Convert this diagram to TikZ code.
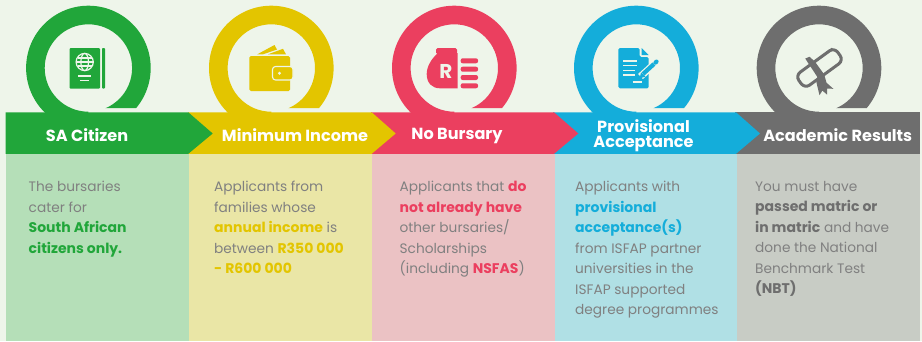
\documentclass[tikz,border=0pt]{standalone}
\usepackage{fontspec}
\setmainfont{Poppins}
\definecolor{bgc}{HTML}{EEF5EA}
\definecolor{cgreen}{HTML}{21A63A}
\definecolor{cyellow}{HTML}{E3C500}
\definecolor{cred}{HTML}{EB3F5F}
\definecolor{cblue}{HTML}{14ADDA}
\definecolor{cgray}{HTML}{6E6E6E}
\definecolor{pgreen}{HTML}{B5DFB8}
\definecolor{pyellow}{HTML}{EAE6A6}
\definecolor{pred}{HTML}{EBC2C4}
\definecolor{pblue}{HTML}{B0E0E5}
\definecolor{pgray}{HTML}{C8CCC5}
\definecolor{txtc}{HTML}{808080}
\tikzset{
  bartitle/.style={text=white,font=\bfseries\fontsize{16.1}{15}\selectfont,align=center,inner sep=0pt,anchor=center},
  bodytext/.style={text=txtc,font=\fontsize{13.7}{20.5}\selectfont,align=left,inner sep=0pt,anchor=north west},
}
\newcommand{\emtext}[2]{\textcolor{#1}{\fontsize{14}{20.5}\selectfont\textbf{#2}}}
\newcommand{\ringat}[2]{%
  \begin{scope}
    \clip (#1-70,0) -- (#1+70,0) -- (#1+70,108) -- (#1,108) -- (#1,113) -- (#1-70,113) -- cycle;
    \fill[#2,even odd rule] (#1,68) circle [radius=62.3pt] (#1,68) circle [radius=43.7pt];
  \end{scope}}
\begin{document}
\begin{tikzpicture}[x=1pt,y=-1pt]
\useasboundingbox (0,0) rectangle (922,341);
\fill[bgc] (0,0) rectangle (922,341);
% panels
\fill[pgreen] (6,154) rectangle (189,341);
\fill[pyellow] (189,154) rectangle (372,341);
\fill[pred] (372,154) rectangle (554.5,341);
\fill[pblue] (554.5,154) rectangle (737,341);
\fill[pgray] (737,154) rectangle (920,341);
% rings
\ringat{88.4}{cgreen}
\ringat{271.3}{cyellow}
\ringat{454.3}{cred}
\ringat{636.3}{cblue}
\ringat{819}{cgray}
% arrow bars
\fill[cgray] (735,112.3) -- (919.5,112.3) -- (919.5,153.8) -- (735,153.8) -- cycle;
\fill[cblue] (553,112.3) -- (736,112.3) -- (760,133.5) -- (736,153.8) -- (553,153.8) -- cycle;
\fill[cred] (371,112.3) -- (554,112.3) -- (578.3,133.5) -- (554,153.8) -- (371,153.8) -- cycle;
\fill[cyellow] (188,112.3) -- (371.7,112.3) -- (395.7,133.5) -- (371.7,153.8) -- (188,153.8) -- cycle;
\fill[cgreen] (5.5,112.3) -- (188.3,112.3) -- (212.7,133.5) -- (188.3,153.8) -- (5.5,153.8) -- cycle;
% titles
\node[bartitle] (t1) at (87,134.8) {SA Citizen};
\node[bartitle] (t2) at (295,134.8) {Minimum Income};
\node[bartitle] (t3) at (457,136) {No Bursary};
\node[bartitle] (t4) at (643.5,136) {Provisional\\Acceptance};
\node[bartitle] (t5) at (837.7,134.8) {Academic Results};
% body
\node[bodytext] (b1) at (28.5,181) {The bursaries\\cater for\\\emtext{cgreen}{South African}\\\emtext{cgreen}{citizens only.}};
\node[bodytext] (b2) at (214,181) {Applicants from\\families whose\\\emtext{cyellow}{annual income} is\\between \emtext{cyellow}{R350 000}\\\emtext{cyellow}{- R600 000}};
\node[bodytext] (b3) at (399.5,181) {Applicants that \emtext{cred}{do}\\\emtext{cred}{not already have}\\other bursaries/\\Scholarships\\(including \emtext{cred}{NSFAS})};
\node[bodytext] (b4) at (575,181) {Applicants with\\\emtext{cblue}{provisional}\\\emtext{cblue}{acceptance(s)}\\from ISFAP partner\\universities in the\\ISFAP supported\\degree programmes};
\node[bodytext] (b5) at (755,181) {You must have\\\emtext{cgray}{passed matric or}\\\emtext{cgray}{in matric} and have\\done the National\\Benchmark Test\\\emtext{cgray}{(NBT)}};
% passport icon
\fill[cgreen,rounded corners=1pt] (69.5,48) rectangle (100,88.5);
\fill[cgreen,rounded corners=0.8pt] (102,48) rectangle (105,88.5);
\begin{scope}[draw=bgc,line width=1.2pt]
\draw (84.7,62) circle [radius=8.6pt];
\draw (84.7,62) ellipse [x radius=3.8pt,y radius=8.6pt];
\draw (76.1,62) -- (93.3,62) (77.5,58) -- (92,58) (77.5,66) -- (92,66);
\end{scope}
\draw[bgc,line width=1.3pt] (78,76) -- (91,76) (80,80.7) -- (89,80.7);
% wallet icon
\fill[cyellow] (257.3,54.3) -- (274.5,45) -- (277,49.5) -- (263,54.3) -- cycle;
\fill[cyellow] (268,54.3) -- (283,48.8) -- (286,54.3) -- cycle;
\fill[cyellow,rounded corners=1.5pt] (249.3,56) rectangle (290,91);
\fill[cyellow,draw=bgc,line width=1.1pt,rounded corners=3pt] (272.5,66.5) rectangle (293,80);
\fill[bgc] (279.5,73.2) circle [radius=1.6pt];
% money bag icon
\fill[cred,rounded corners=1.5pt] (436,48) rectangle (457,54);
\fill[cred] (438,53) .. controls (431,59) and (426.7,67) .. (426.7,74) .. controls (426.7,83) and (432,88.3) .. (440,88.3) -- (457.5,88.3) -- (457.5,53) -- cycle;
\foreach \yy in {58.3,66.7,75,83.3}{\fill[cred,rounded corners=2pt] (460.7,\yy) rectangle (478,\yy+5);}
\node[text=bgc,inner sep=0pt,font=\bfseries\fontsize{20}{20}\selectfont] (rsym) at (446,71) {R};
% document icon
\fill[cblue,rounded corners=1.5pt] (618.3,48) -- (639.5,48) -- (639.5,57) -- (648.7,57) -- (648.7,88.3) -- (618.3,88.3) -- cycle;
\fill[cblue] (641.5,48) -- (648.7,55.2) -- (641.5,55.2) -- cycle;
\draw[bgc,line width=1.3pt] (623.3,61) -- (637.3,61) (623.3,65.7) -- (637.3,65.7) (623.3,70.3) -- (635,70.3) (623.3,75) -- (635,75) (632.7,82) -- (641.7,82);
\draw[bgc,line width=7pt] (640.5,76.5) -- (656,62.5);
\draw[cblue,line width=4.2pt] (643,74) -- (654,64);
\draw[cblue,line width=4.2pt,line cap=round] (655.5,62.6) -- (656.5,61.6);
\fill[cblue] (639.5,78.5) -- (641,72.5) -- (645.5,76.5) -- cycle;
% diploma icon
\begin{scope}[shift={(819.5,68)},rotate=36]
\draw[cgray,line width=3pt,rounded corners=6pt] (-24,-8) rectangle (24,8);
\fill[cgray] (-6,-16) -- (-1.5,-15) -- (0,-8) -- (0,8) -- (-3,16) -- (-1,25) -- (-6,21) -- (-9.5,26) -- (-11,20) -- (-16,22) -- (-11,10) -- (-7,6) -- cycle;
\draw[cgray,line width=2.2pt] (0,-8) -- (22,-8);
\end{scope}
\end{tikzpicture}
\end{document}
